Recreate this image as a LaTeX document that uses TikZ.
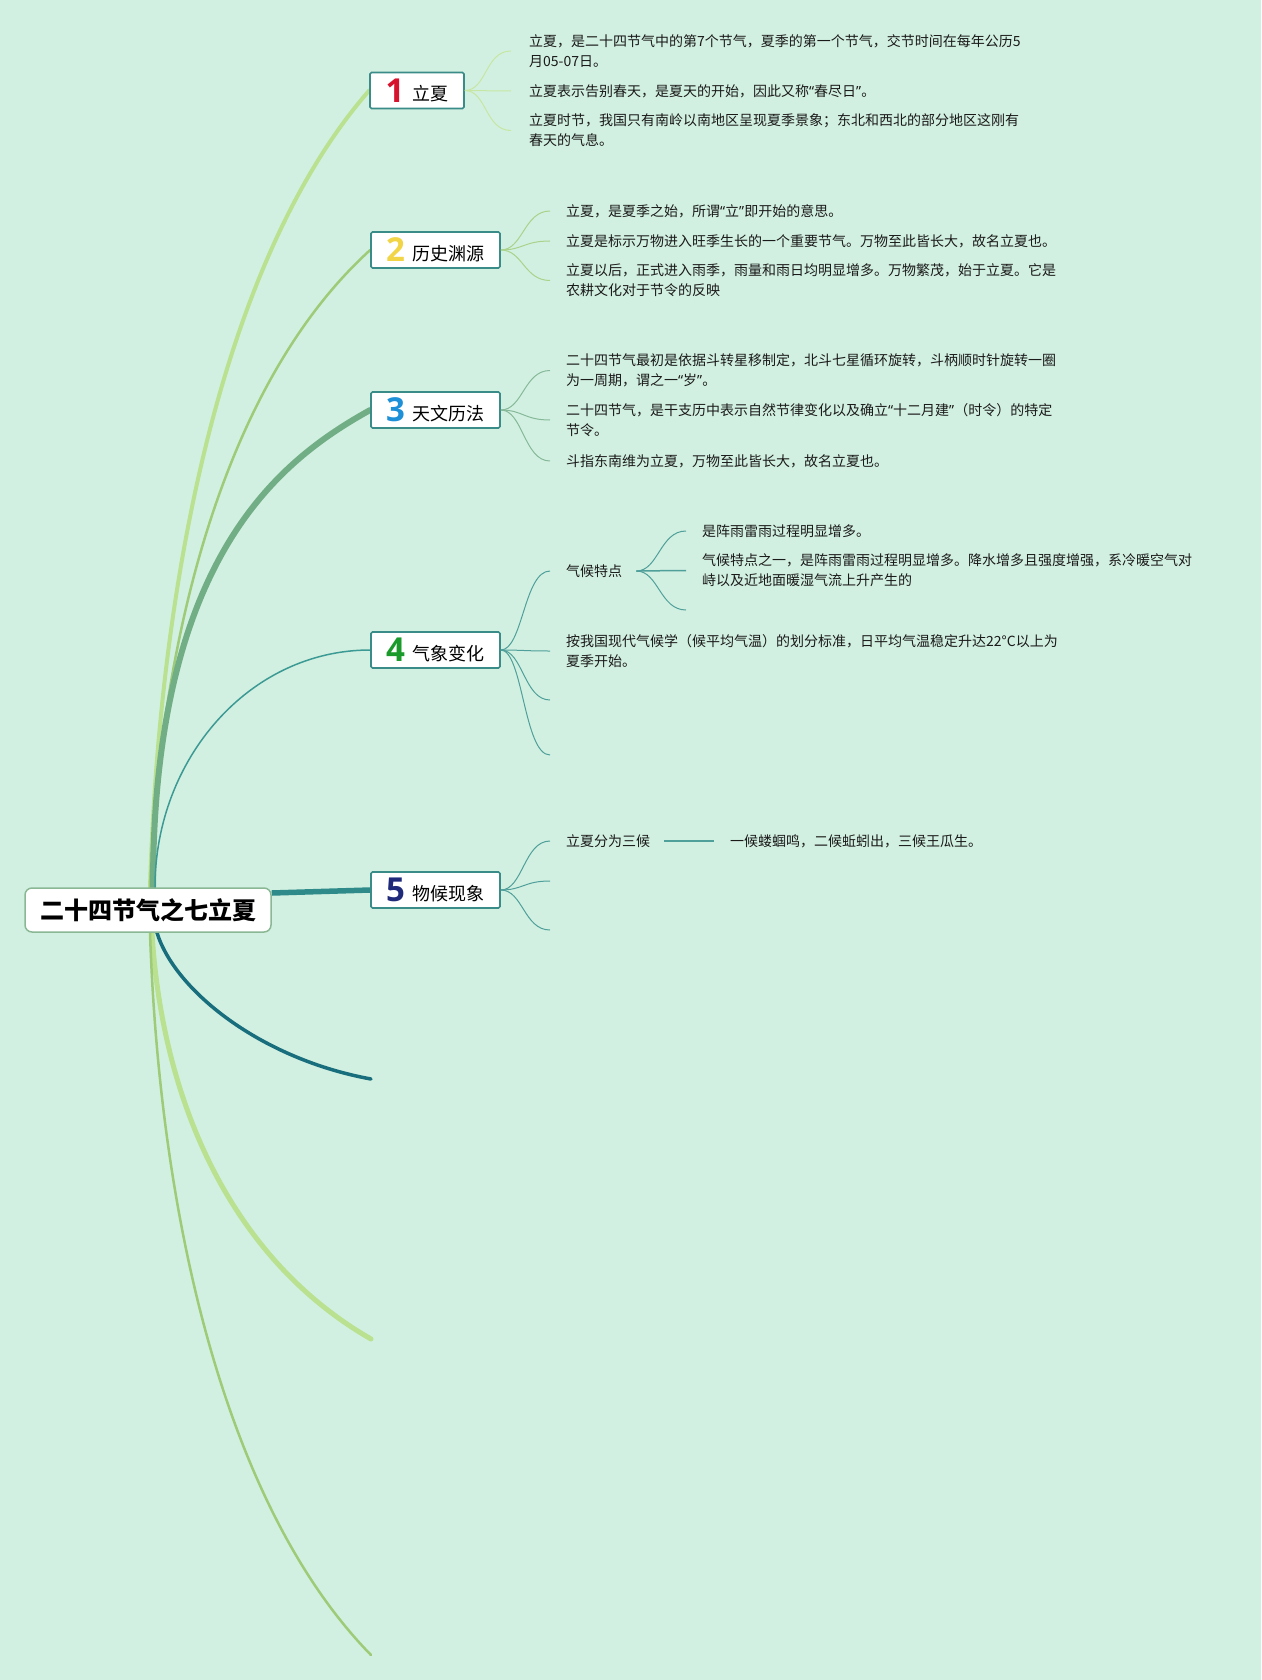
\documentclass[tikz,border=0pt]{standalone}
\usepackage{fontspec}
\setmainfont{Noto Sans CJK SC}
\newfontfamily\digitfont{Open Sans}
\newfontfamily\latinq{Noto Sans}
\newcommand\oq{{\latinq “}}
\newcommand\cq{{\latinq ”}}
\usetikzlibrary{calc}
\definecolor{bgc}{HTML}{D2F0E1}
\definecolor{brA}{HTML}{B9E190}
\definecolor{brB}{HTML}{9DCB78}
\definecolor{brC}{HTML}{72AE85}
\definecolor{brD}{HTML}{3C9A94}
\definecolor{brE}{HTML}{2E8B8A}
\definecolor{brF}{HTML}{186E7C}
\definecolor{subA}{HTML}{C6E7A3}
\definecolor{subB}{HTML}{A9D28B}
\definecolor{subC}{HTML}{86B99A}
\definecolor{subD}{HTML}{4FA09A}
\definecolor{boxborder}{HTML}{3A8C88}
\definecolor{rootborder}{HTML}{8AB895}
\definecolor{dA}{HTML}{D7142E}
\definecolor{dB}{HTML}{F2D447}
\definecolor{dC}{HTML}{1E90D8}
\definecolor{dD}{HTML}{1A9A2A}
\definecolor{dE}{HTML}{1F2A7A}
\definecolor{leaftext}{HTML}{1A1A1A}
\pgfdeclarelayer{back}
\pgfdeclarelayer{bg}
\pgfsetlayers{back,bg,main}
\newcommand\topicnum[2]{\textcolor{#1}{\digitfont\fontsize{33}{33}\selectfont\bfseries #2}\hspace{8pt}}
\begin{document}
\begin{tikzpicture}[x=1pt,y=-1pt,
  rootbox/.style={draw=rootborder, fill=white, rounded corners=7pt, line width=1.5pt,
    minimum width=246, minimum height=44, inner sep=0pt,
    font=\fontsize{24}{24}\selectfont\bfseries},
  mainbox/.style={draw=boxborder, fill=white, line width=1.6pt, rounded corners=1.5pt,
    minimum height=36, inner sep=0pt, font=\fontsize{18}{18}\selectfont},
  leaf/.style={anchor=west, align=left, inner sep=0pt, text=leaftext,
    font=\fontsize{14}{20}\selectfont},
  sub/.style={line width=1pt, to path={(\tikztostart) .. controls +(22,0) and +(-26,0) .. (\tikztotarget)}},
  branch/.style={line cap=round}
]
\begin{pgfonlayer}{back}
\fill[bgc] (0,0) rectangle (1261,1680);
\end{pgfonlayer}
\useasboundingbox (0,0) rectangle (1261,1680);

% root and main topics
\node[rootbox] (root) at (148,910) {二十四节气之七立夏};
\node[mainbox, minimum width=94] (n1) at (417,90.5) {\topicnum{dA}{1}\raisebox{1.5pt}{立夏}};
\node[mainbox, minimum width=129] (n2) at (435.5,250) {\topicnum{dB}{2}\raisebox{1.5pt}{历史渊源}};
\node[mainbox, minimum width=129] (n3) at (435.5,410) {\topicnum{dC}{3}\raisebox{1.5pt}{天文历法}};
\node[mainbox, minimum width=129] (n4) at (435.5,650) {\topicnum{dD}{4}\raisebox{1.5pt}{气象变化}};
\node[mainbox, minimum width=129] (n5) at (435.5,890) {\topicnum{dE}{5}\raisebox{1.5pt}{物候现象}};
\coordinate (e6) at (371,1079);
\coordinate (e7) at (371,1339);
\coordinate (e8) at (371,1655);

% leaves of 1
\node[leaf] (t11) at (529,51) {立夏，是二十四节气中的第7个节气，夏季的第一个节气，交节时间在每年公历5\\月05-07日。};
\node[leaf] (t12) at (529,91) {立夏表示告别春天，是夏天的开始，因此又称\oq 春尽日\cq 。};
\node[leaf] (t13) at (529,130.5) {立夏时节，我国只有南岭以南地区呈现夏季景象；东北和西北的部分地区这刚有\\春天的气息。};
% leaves of 2
\node[leaf] (t21) at (566,211) {立夏，是夏季之始，所谓\oq 立\cq 即开始的意思。};
\node[leaf] (t22) at (566,241) {立夏是标示万物进入旺季生长的一个重要节气。万物至此皆长大，故名立夏也。};
\node[leaf] (t23) at (566,280.5) {立夏以后，正式进入雨季，雨量和雨日均明显增多。万物繁茂，始于立夏。它是\\农耕文化对于节令的反映};
% leaves of 3
\node[leaf] (t31) at (566,370.5) {二十四节气最初是依据斗转星移制定，北斗七星循环旋转，斗柄顺时针旋转一圈\\为一周期，谓之一\oq 岁\cq 。};
\node[leaf] (t32) at (566,420) {二十四节气，是干支历中表示自然节律变化以及确立\oq 十二月建\cq （时令）的特定\\节令。};
\node[leaf] (t33) at (566,461) {斗指东南维为立夏，万物至此皆长大，故名立夏也。};
% leaves of 4
\node[leaf] (t41) at (566,571) {气候特点};
\node[leaf] (t411) at (702,531) {是阵雨雷雨过程明显增多。};
\node[leaf] (t412) at (702,570.5) {气候特点之一，是阵雨雷雨过程明显增多。降水增多且强度增强，系冷暖空气对\\峙以及近地面暖湿气流上升产生的};
\coordinate (e413) at (686,610);
\node[leaf] (t42) at (566,651) {按我国现代气候学（候平均气温）的划分标准，日平均气温稳定升达22°C以上为\\夏季开始。};
\coordinate (e43) at (550,700);
\coordinate (e44) at (550,755);
% leaves of 5
\node[leaf] (t51) at (566,841) {立夏分为三候};
\node[leaf] (t511) at (730,841) {一候蝼蝈鸣，二候蚯蚓出，三候王瓜生。};
\coordinate (e52) at (550,881);
\coordinate (e53) at (550,930);

\begin{pgfonlayer}{bg}
% main branches
\draw[branch, brA, line width=4pt] ([xshift=2pt]root.north) .. controls +(10,-328) and +(-140,160) .. (n1.west);
\draw[branch, brB, line width=2.5pt] ([xshift=2pt]root.north) .. controls +(10,-262) and +(-141,128) .. (n2.west);
\draw[branch, brC, line width=6pt] ([xshift=5pt]root.north) .. controls +(0,-330) and +(-90,50) .. (n3.west);
\draw[branch, brD, line width=1.5pt] ([xshift=7pt]root.north) .. controls +(0,-128) and +(-121,0) .. (n4.west);
\draw[brE, line width=5.5pt] ([yshift=17pt]root.east) -- (n5.west);
\draw[branch, brF, line width=3.5pt] ([xshift=9pt]root.south) .. controls +(18,58) and +(-110,-20) .. (e6);
\draw[branch, brA, line width=5pt] ([xshift=4pt]root.south) .. controls +(10,167) and +(-141,-81) .. (e7);
\draw[branch, brB, line width=2.5pt] ([xshift=2pt]root.south) .. controls +(10,296) and +(-142,-145) .. (e8);
\end{pgfonlayer}

% sub connectors
\draw[sub, subA] (n1.east) to ([xshift=-18pt]t11.west);
\draw[sub, subA] (n1.east) to ([xshift=-18pt]t12.west);
\draw[sub, subA] (n1.east) to ([xshift=-18pt]t13.west);
\draw[sub, subB] (n2.east) to ([xshift=-16pt]t21.west);
\draw[sub, subB] (n2.east) to ([xshift=-16pt]t22.west);
\draw[sub, subB] (n2.east) to ([xshift=-16pt]t23.west);
\draw[sub, subC] (n3.east) to ([xshift=-16pt]t31.west);
\draw[sub, subC] (n3.east) to ([xshift=-16pt]t32.west);
\draw[sub, subC] (n3.east) to ([xshift=-16pt]t33.west);
\draw[sub, subD] (n4.east) to ([xshift=-16pt]t41.west);
\draw[sub, subD] (n4.east) to ([xshift=-16pt]t42.west);
\draw[sub, subD] (n4.east) to (e43);
\draw[sub, subD] (n4.east) to (e44);
\draw[sub, subD] ([xshift=14pt]t41.east) to ([xshift=-16pt]t411.west);
\draw[sub, subD, line width=1.5pt] ([xshift=14pt]t41.east) to ([xshift=-16pt]t412.west);
\draw[sub, subD] ([xshift=14pt]t41.east) to (e413);
\draw[sub, subD] (n5.east) to ([xshift=-16pt]t51.west);
\draw[sub, subD] (n5.east) to (e52);
\draw[sub, subD] (n5.east) to (e53);
\draw[subD, line width=1.5pt] ([xshift=14pt]t51.east) -- ([xshift=-16pt]t511.west);
\end{tikzpicture}
\end{document}
